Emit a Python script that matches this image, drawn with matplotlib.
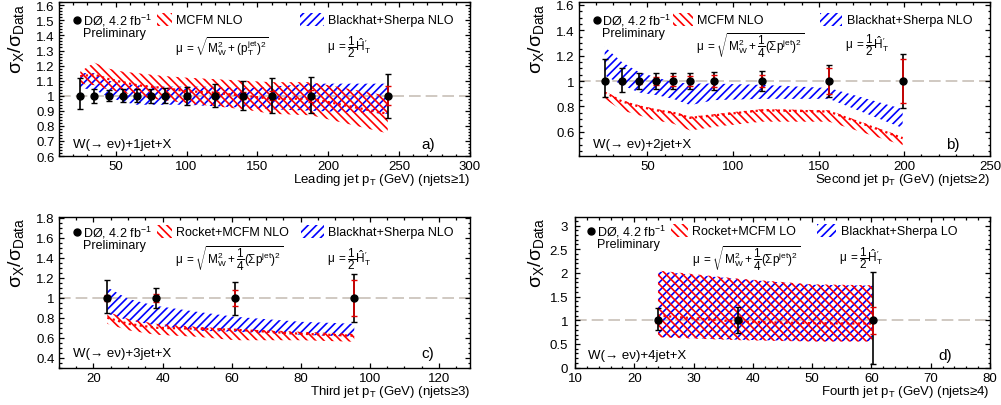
import numpy as np
import matplotlib
matplotlib.use('Agg')
import matplotlib.pyplot as plt
from matplotlib.patches import Rectangle
from matplotlib.ticker import MultipleLocator

plt.rcParams['font.family'] = ['Liberation Sans', 'DejaVu Sans']
plt.rcParams['mathtext.fontset'] = 'custom'
plt.rcParams['mathtext.rm'] = 'Liberation Sans'
plt.rcParams['mathtext.it'] = 'Liberation Sans'
plt.rcParams['mathtext.sf'] = 'Liberation Sans'
plt.rcParams['mathtext.default'] = 'regular'
plt.rcParams['hatch.linewidth'] = 1.2

# ---- a) leading jet
pt_a = [25, 35, 45, 55, 65, 75, 85, 100, 120, 140, 160, 188, 242]
ratio_a = [1, 1, 1, 1, 1, 1, 1, 1, 1, 1, 1, 1, 1]
tot_up_a = [0.12, 0.045, 0.037, 0.042, 0.042, 0.045, 0.05, 0.06, 0.077, 0.10, 0.115, 0.125, 0.145]
tot_dn_a = [0.09, 0.045, 0.037, 0.042, 0.042, 0.045, 0.05, 0.06, 0.077, 0.093, 0.115, 0.117, 0.145]
stat_a = [0.005, 0.006, 0.007, 0.008, 0.009, 0.01, 0.012, 0.013, 0.018, 0.024, 0.03, 0.04, 0.063]
mcfm_hi_a = [1.16, 1.22, 1.18, 1.16, 1.15, 1.14, 1.13, 1.12, 1.11, 1.10, 1.09, 1.09, 1.00]
mcfm_lo_a = [1.08, 1.07, 1.04, 1.02, 1.00, 0.98, 0.97, 0.95, 0.93, 0.91, 0.88, 0.87, 0.75]
mcfm_c_a = [1.13, 1.14, 1.11, 1.09, 1.07, 1.06, 1.05, 1.03, 1.02, 1.00, 0.98, 0.98, 0.88]
bh_hi_a = [1.15, 1.15, 1.10, 1.08, 1.07, 1.06, 1.06, 1.06, 1.06, 1.05, 1.06, 1.08, 1.08]
bh_lo_a = [1.05, 1.04, 0.99, 0.96, 0.94, 0.94, 0.94, 0.94, 0.93, 0.92, 0.91, 0.90, 0.88]

# ---- b) second jet
pt_b = [25, 35, 45, 55, 65, 75, 89, 117, 156, 199]
ratio_b = [1, 1, 1, 1, 1, 1, 1, 1, 1, 1]
tot_up_b = [0.173, 0.105, 0.065, 0.06, 0.062, 0.066, 0.068, 0.076, 0.123, 0.215]
tot_dn_b = [0.126, 0.09, 0.065, 0.06, 0.062, 0.066, 0.068, 0.076, 0.123, 0.215]
stat_b = [0.01, 0.015, 0.02, 0.03, 0.04, 0.04, 0.045, 0.05, 0.10, 0.17]
mcfm_hi_b = [0.92, 0.85, 0.81, 0.78, 0.76, 0.72, 0.74, 0.78, 0.77, 0.56]
mcfm_lo_b = [0.86, 0.77, 0.73, 0.69, 0.665, 0.61, 0.64, 0.68, 0.68, 0.495]
mcfm_c_b = [0.91, 0.84, 0.80, 0.77, 0.75, 0.71, 0.73, 0.77, 0.76, 0.55]
bh_hi_b = [1.27, 1.15, 1.07, 1.03, 0.99, 0.98, 0.98, 0.97, 0.945, 0.78]
bh_lo_b = [1.045, 0.97, 0.91, 0.89, 0.86, 0.81, 0.85, 0.86, 0.86, 0.63]

# ---- c) third jet
pt_c = [24, 38, 61, 95.5]
ratio_c = [1, 1, 1, 1]
tot_up_c = [0.18, 0.096, 0.155, 0.24]
tot_dn_c = [0.15, 0.10, 0.175, 0.24]
stat_c = [0.03, 0.04, 0.08, 0.18]
band_x_c = [24, 30, 38, 50, 61, 80, 95.5]
mcfm_hi_c = [0.86, 0.79, 0.74, 0.71, 0.69, 0.66, 0.64]
mcfm_lo_c = [0.74, 0.675, 0.63, 0.61, 0.575, 0.575, 0.56]
mcfm_c_c = [0.80, 0.74, 0.70, 0.69, 0.68, 0.64, 0.62]
bh_hi_c = [1.105, 0.99, 0.92, 0.86, 0.81, 0.76, 0.74]
bh_lo_c = [0.84, 0.775, 0.725, 0.67, 0.66, 0.63, 0.61]

# ---- d) fourth jet
pt_d = [24, 37.5, 60.2]
ratio_d = [1, 1, 1]
tot_up_d = [0.26, 0.29, 1.01]
tot_dn_d = [0.20, 0.27, 0.93]
stat_d = [0.05, 0.06, 0.28]
band_x_d = [24, 37.5, 50, 60.2]
mcfm_hi_d = [2.05, 1.88, 1.76, 1.74]
mcfm_lo_d = [0.64, 0.58, 0.55, 0.55]
mcfm_c_d = [1.10, 0.97, 0.94, 0.93]
bh_hi_d = [2.03, 1.87, 1.75, 1.73]
bh_lo_d = [0.65, 0.59, 0.56, 0.56]

RED = '#ff0000'
BLUE = '#0000ff'
HR = '\\' * 4
HB = '/' * 4

mu1 = r'$\mu\ =\sqrt{M_W^2+(p_T^{jet})^2}$'
mu2 = r'$\mu\ =\sqrt{M_W^2+\dfrac{1}{4}(\Sigma p^{jet})^2}$'
mu_ht = r"$\mu\ = \dfrac{1}{2}\hat{H}_T'$"


def panel(ax, x, r, up, dn, st, bx, mhi, mlo, mc, bhi, blo, xlim, ylim,
          xmaj, xmin_, ymaj, ymin_, xlab, proc, tag, mname, bname, mu, lay):
    ax.set_xlim(*xlim)
    ax.set_ylim(*ylim)
    ax.axhline(1.0, color='#c8c0b8', lw=1.2, dashes=(7, 3), zorder=1)
    ax.fill_between(bx, blo, bhi, facecolor='none', edgecolor=BLUE, hatch=HB, lw=0, zorder=2)
    ax.fill_between(bx, mlo, mhi, facecolor='none', edgecolor=RED, hatch=HR, lw=0, zorder=3)
    ax.plot(bx, mc, color=RED, lw=1.6, dashes=(1, 1.5), zorder=4)
    ax.errorbar(x, r, yerr=[dn, up], fmt='none', ecolor='black', elinewidth=1.2,
                capsize=2.5, capthick=1.0, zorder=5)
    ax.errorbar(x, r, yerr=st, fmt='none', ecolor='#e00000', elinewidth=1.2,
                capsize=2.0, capthick=1.0, zorder=6)
    ax.plot(x, r, 'o', color='black', ms=5, zorder=7)

    ax.xaxis.set_major_locator(MultipleLocator(xmaj))
    ax.xaxis.set_minor_locator(MultipleLocator(xmin_))
    ax.yaxis.set_major_locator(MultipleLocator(ymaj))
    ax.yaxis.set_minor_locator(MultipleLocator(ymin_))
    ax.yaxis.set_major_formatter(matplotlib.ticker.FuncFormatter(lambda v, p: ('%g' % round(v, 3))))
    ax.tick_params(which='both', direction='in', top=True, right=True, labelsize=9.5, width=0.9)
    ax.tick_params(which='major', length=3.6, pad=3)
    ax.tick_params(which='minor', length=1.8)
    ax.tick_params(axis='y', which='major', pad=lay.get('ypad', 3))
    for s in ax.spines.values():
        s.set_linewidth(1.0)

    ax.text(1.0, -0.10, xlab, transform=ax.transAxes, ha='right', va='top', fontsize=9.5)
    ax.text(lay['yl'], 1.0, r'$\sigma_X/\sigma_{Data}$', transform=ax.transAxes, rotation=90,
            ha='center', va='top', fontsize=14)

    yt = lay['yt']
    ax.plot([lay['mk']], [yt], 'o', color='black', ms=5, transform=ax.transAxes, clip_on=False)
    ax.text(lay['mk'] + 0.014, yt, 'DØ, 4.2 fb$^{-1}$', transform=ax.transAxes,
            ha='left', va='center', fontsize=9)
    ax.text(lay['mk'] + 0.014, yt - 0.088, 'Preliminary', transform=ax.transAxes,
            ha='left', va='center', fontsize=9)
    sh = 0.085
    for (x0, x1, col, h, name) in [(lay['r0'], lay['r1'], RED, HR, mname),
                                   (lay['b0'], lay['b1'], BLUE, HB, bname)]:
        ax.add_patch(Rectangle((x0, yt - sh / 2), x1 - x0, sh, transform=ax.transAxes,
                               facecolor='none', edgecolor=col, hatch=h, lw=0))
        ax.text(x1 + 0.01, yt, name, transform=ax.transAxes, ha='left', va='center', fontsize=9)
    ax.text(lay['r1'] + 0.008, lay['ym'], mu, transform=ax.transAxes, ha='left', va='center', fontsize=8.5)
    ax.text(lay['b1'] + 0.006, lay['ym'], mu_ht, transform=ax.transAxes, ha='left', va='center', fontsize=8.5)
    ax.text(lay['wx'], lay['wy'], proc, transform=ax.transAxes, ha='left', va='center', fontsize=9.5)
    ax.text(lay['tx'], lay['wy'], tag, transform=ax.transAxes, ha='left', va='center', fontsize=11)


fig = plt.figure(figsize=(10.01, 4.06), dpi=100)
ax_a = fig.add_axes([0.0589, 0.6133, 0.4106, 0.3786])
ax_b = fig.add_axes([0.5784, 0.6133, 0.4106, 0.3786])
ax_c = fig.add_axes([0.0589, 0.0919, 0.4106, 0.3712])
ax_d = fig.add_axes([0.5744, 0.0919, 0.4146, 0.3712])

panel(ax_a, pt_a, ratio_a, tot_up_a, tot_dn_a, stat_a, pt_a, mcfm_hi_a, mcfm_lo_a, mcfm_c_a,
      bh_hi_a, bh_lo_a, (10, 300), (0.6, 1.62), 50, 10, 0.1, 0.02,
      'Leading jet p$_T$ (GeV) (njets≥1)', 'W(→ eν)+1jet+X', 'a)', 'MCFM NLO',
      'Blackhat+Sherpa NLO', mu1,
      dict(yl=-0.105, mk=0.044, yt=0.885, r0=0.238, r1=0.275, b0=0.586, b1=0.645,
           ym=0.712, wx=0.034, wy=0.08, tx=0.882))
panel(ax_b, pt_b, ratio_b, tot_up_b, tot_dn_b, stat_b, pt_b, mcfm_hi_b, mcfm_lo_b, mcfm_c_b,
      bh_hi_b, bh_lo_b, (10, 250), (0.41, 1.62), 50, 10, 0.2, 0.05,
      'Second jet p$_T$ (GeV) (njets≥2)', 'W(→ eν)+2jet+X', 'b)', 'MCFM NLO',
      'Blackhat+Sherpa NLO', mu2,
      dict(yl=-0.105, mk=0.043, yt=0.885, r0=0.229, r1=0.277, b0=0.587, b1=0.641,
           ym=0.725, wx=0.034, wy=0.08, tx=0.894))
panel(ax_c, pt_c, ratio_c, tot_up_c, tot_dn_c, stat_c, band_x_c, mcfm_hi_c, mcfm_lo_c, mcfm_c_c,
      bh_hi_c, bh_lo_c, (10, 129), (0.3, 1.81), 20, 5, 0.2, 0.05,
      'Third jet p$_T$ (GeV) (njets≥3)', 'W(→ eν)+3jet+X', 'c)', 'Rocket+MCFM NLO',
      'Blackhat+Sherpa NLO', mu2,
      dict(yl=-0.105, mk=0.045, yt=0.902, r0=0.238, r1=0.275, b0=0.59, b1=0.645,
           ym=0.728, wx=0.035, wy=0.097, tx=0.882))
panel(ax_d, pt_d, ratio_d, tot_up_d, tot_dn_d, stat_d, band_x_d, mcfm_hi_d, mcfm_lo_d, mcfm_c_d,
      bh_hi_d, bh_lo_d, (10, 80), (0, 3.18), 10, 2, 0.5, 0.1,
      'Fourth jet p$_T$ (GeV) (njets≥4)', 'W(→ eν)+4jet+X', 'd)', 'Rocket+MCFM LO',
      'Blackhat+Sherpa LO', mu2,
      dict(yl=-0.095, mk=0.039, yt=0.909, r0=0.231, r1=0.273, b0=0.582, b1=0.63,
           ym=0.731, wx=0.032, wy=0.087, tx=0.875, ypad=5))

fig.savefig('out.png', dpi=100)
